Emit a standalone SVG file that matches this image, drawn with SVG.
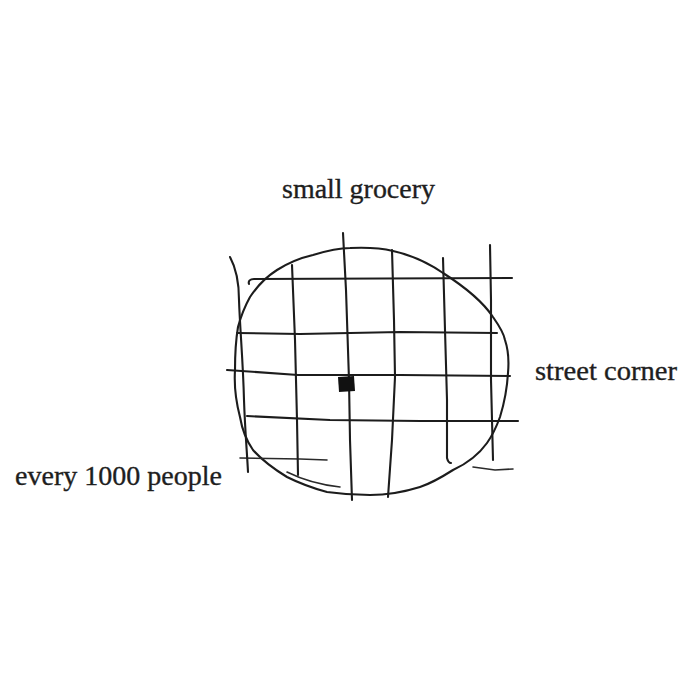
<svg xmlns="http://www.w3.org/2000/svg" width="700" height="700" viewBox="0 0 700 700">
<style>
.ink{fill:none;stroke:#1c1c1c;stroke-width:2.1;stroke-linecap:round;stroke-linejoin:round}
.thin{fill:none;stroke:#2a2a2a;stroke-width:1.6;stroke-linecap:round}
.lbl{font-family:"Liberation Serif","DejaVu Serif",serif;font-size:27px;fill:#1e1e1e;stroke:#1e1e1e;stroke-width:0.35}
</style>
<rect width="700" height="700" fill="#ffffff"/>
<g id="neighborhood">
<path class="ink" d="M350,248 C372,247 385,249 393,251 C415,256 430,264 443,273 C465,287 483,302 493,317 C500,327 504,334 505,340 C509,352 509,362 508,373 C507,390 504,404 500,417 C496,428 492,436 487,443 C477,457 466,464 453,470 C442,477 432,483 420,487 C404,492 388,495 370,495 C356,495 341,494 327,492 C312,488 299,483 287,477 C274,469 262,460 253,450 C246,440 242,429 240,417 C236,402 234,386 235,370 C235,354 236,339 238,327 C241,316 245,306 250,297 C258,285 266,277 277,270 C288,263 300,258 313,255 C326,251 338,248 350,248 Z"/>
<path class="thin" d="M287,472 C305,481 322,485 340,487"/>
</g>
<g id="streets">
<path class="ink" d="M249,284 C248,281 250,279 254,279 L512,278"/>
<path class="ink" d="M237,333 L300,334 L400,332 L497,333"/>
<path class="ink" d="M227,370 L298,375 L400,375 L510,376"/>
<path class="ink" d="M247,416 L330,420 L420,421 L518,421"/>
<path class="thin" d="M240,458 L300,459 L327,460"/>
<path class="thin" d="M473,467 L495,470 L513,469"/>
<path class="ink" d="M230,257 C236,268 239,285 239,300 C240,330 243,360 244,400 C245,430 247,452 248,472"/>
<path class="ink" d="M292,265 L295,340 L297,420 L298,475"/>
<path class="ink" d="M343,233 L346,290 L349,380 L350,440 L352,500"/>
<path class="ink" d="M392,250 L394,320 L395,377 L392,440 L388,497"/>
<path class="ink" d="M443,258 L445,330 L447,400 L447,458 C448,462 449,463 451,463"/>
<path class="ink" d="M490,245 L491,300 L491,380 L493,460"/>
</g>
<g id="grocery">
<path d="M338,377 L354,376 L355,391 L339,392 Z" fill="#111"/>
</g>
<g id="labels">
<text class="lbl" x="282" y="198" textLength="153" lengthAdjust="spacingAndGlyphs">small grocery</text>
<text class="lbl" x="535" y="380" textLength="142" lengthAdjust="spacingAndGlyphs">street corner</text>
<text class="lbl" x="15" y="485" textLength="207" lengthAdjust="spacingAndGlyphs">every 1000 people</text>
</g>
</svg>
